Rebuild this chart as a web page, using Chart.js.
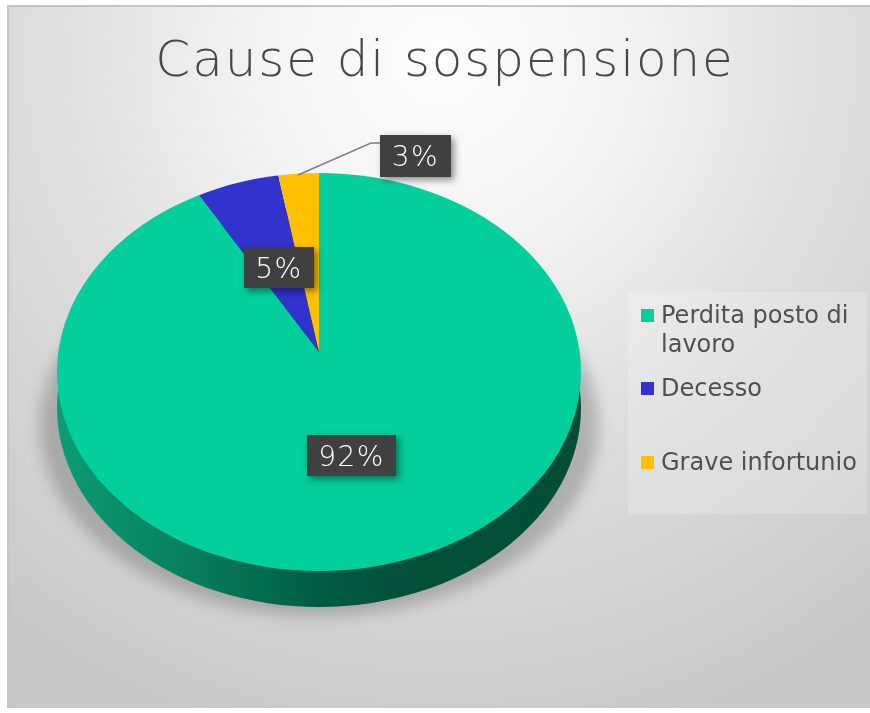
<!DOCTYPE html>
<html>
<head>
<meta charset="utf-8">
<title>Cause di sospensione</title>
<script src="https://cdn.jsdelivr.net/npm/chart.js@4"></script>
<style>
  body { margin: 0; background: #fff; overflow: hidden; }
  #wrap { position: relative; width: 870px; height: 713px; }
  #legendBox { position: absolute; left: 628px; top: 292px; width: 239px; height: 222px; background: rgba(255,255,255,.2); }
  .item { position: absolute; left: 13px; font: 24px/29px "DejaVu Sans", sans-serif; color: #505050; padding-left: 20px; width: 220px; box-sizing: border-box; }
  .item i { position: absolute; left: 0; top: 8px; width: 13px; height: 13px; }
</style>
</head>
<body>
<div id="wrap">
  <canvas id="myChart" width="870" height="713"></canvas>
  <div id="legendBox"></div>
</div>
<script>
var titleText = "Cause di sospensione";
var categories = ["Perdita posto di lavoro", "Decesso", "Grave infortunio"];
var values = [92.3, 5.2, 2.5];
var colors = ["#02CF9C", "#3232CC", "#FFC000"];

// where the tilted pie sits on the page
var tipX = 319, tipY = 352;      // point where the slices meet
var faceX = 319, faceY = 372, faceRx = 262, faceRy = 199;
var depth = 36;
var grow = 1.2;                  // slices are drawn larger, then clipped to the face

// label boxes: left, top, width, height
var boxes = [[307, 435, 89, 41], [244, 247, 70, 41], [380, 135, 71, 42]];

function ellipsePath(ctx, cy) {
  ctx.beginPath();
  ctx.ellipse(faceX, cy, faceRx, faceRy, 0, 0, Math.PI * 2);
}

var tiltedPie = {
  id: "tiltedPie",
  beforeDraw: function(chart) {
    var ctx = chart.ctx;
    ctx.save();
    var g = ctx.createRadialGradient(440, 60, 0, 440, 60, 700);
    g.addColorStop(0, "#fdfdfd");
    g.addColorStop(0.25, "#f4f4f4");
    g.addColorStop(0.6, "#dcdcdc");
    g.addColorStop(1, "#c8c8c8");
    ctx.fillStyle = g;
    ctx.fillRect(8, 6, 862, 702);
    ctx.strokeStyle = "#c4c4c4";
    ctx.lineWidth = 2;
    ctx.beginPath();
    ctx.moveTo(8, 708);
    ctx.lineTo(8, 6);
    ctx.lineTo(870, 6);
    ctx.stroke();
    ctx.restore();
    ctx.letterSpacing = "1.9px"; // only the title is drawn before the datasets
  },
  beforeDatasetsDraw: function(chart) {
    var ctx = chart.ctx;
    var arcs = chart.getDatasetMeta(0).data;
    ctx.letterSpacing = "0px";

    // soft shadow under the lower half
    ctx.save();
    ctx.filter = "blur(7px)";
    ctx.fillStyle = "rgba(60,60,60,.28)";
    ctx.beginPath();
    ctx.ellipse(faceX, 425, faceRx + 17, 191, 0, 0, Math.PI * 2);
    ctx.fill();
    ctx.restore();

    // side of the pie
    ctx.save();
    var side = ctx.createLinearGradient(faceX - faceRx, 0, faceX + faceRx, 0);
    side.addColorStop(0, "#0c9c74");
    side.addColorStop(0.25, "#067f5d");
    side.addColorStop(0.5, "#005c42");
    side.addColorStop(0.65, "#03513a");
    side.addColorStop(1, "#034d37");
    ctx.fillStyle = side;
    ellipsePath(ctx, faceY + depth);
    ctx.fill();
    ctx.restore();

    // top face: library arcs under a tilt, squeezed more above the tip than below
    ctx.save();
    ellipsePath(ctx, faceY);
    ctx.clip();
    [[0, tipY, 180], [tipY, 713 - tipY, 220]].forEach(function(part) {
      ctx.save();
      ctx.beginPath();
      ctx.rect(0, part[0], 870, part[1]);
      ctx.clip();
      arcs.forEach(function(el) {
        var r = el.outerRadius;
        ctx.save();
        ctx.translate(tipX, tipY);
        ctx.scale(faceRx * grow / r, part[2] * grow / r);
        ctx.translate(-el.x, -el.y);
        el.draw(ctx);
        ctx.restore();
      });
      ctx.restore();
    });
    ctx.restore();
    return false;
  },
  afterDraw: function(chart) {
    var ctx = chart.ctx;
    var total = values.reduce(function(a, b) { return a + b; }, 0);

    // leader line for the smallest slice
    ctx.save();
    ctx.strokeStyle = "#808080";
    ctx.lineWidth = 1.5;
    ctx.beginPath();
    ctx.moveTo(298, 175);
    ctx.lineTo(371, 143);
    ctx.lineTo(380, 143);
    ctx.stroke();
    ctx.restore();

    values.forEach(function(v, i) {
      var b = boxes[i];
      ctx.save();
      ctx.shadowColor = "rgba(0,0,0,.45)";
      ctx.shadowBlur = 7;
      ctx.shadowOffsetX = 3;
      ctx.shadowOffsetY = 3;
      ctx.fillStyle = "#404040";
      ctx.fillRect(b[0], b[1], b[2], b[3]);
      ctx.restore();
      ctx.save();
      ctx.fillStyle = "#ffffff";
      ctx.font = "200 28px 'DejaVu Sans'";
      ctx.letterSpacing = "1.5px";
      ctx.textAlign = "center";
      ctx.textBaseline = "middle";
      ctx.fillText(Math.round(v / total * 100) + "%", b[0] + b[2] / 2, b[1] + b[3] / 2 + 3);
      ctx.restore();
    });
  }
};

var ctx = document.getElementById("myChart").getContext("2d");
var myPieChart = new Chart(ctx, {
  type: "pie",
  data: {
    labels: categories,
    datasets: [{ data: values, backgroundColor: colors, borderWidth: 0 }]
  },
  options: {
    responsive: false,
    animation: false,
    layout: { padding: { left: 20 } },
    plugins: {
      legend: { display: false },
      tooltip: { enabled: false },
      title: {
        display: true,
        text: titleText,
        color: "#484848",
        font: { family: "'DejaVu Sans'", size: 50, weight: 200 },
        padding: { top: 33, bottom: 10 }
      }
    }
  },
  plugins: [tiltedPie]
});

// legend from the same arrays
var itemTops = [9, 82, 156];
var box = document.getElementById("legendBox");
categories.forEach(function(name, i) {
  var d = document.createElement("div");
  d.className = "item";
  d.style.top = itemTops[i] + "px";
  d.innerHTML = '<i style="background:' + colors[i] + '"></i>' + name;
  box.appendChild(d);
});
</script>
</body>
</html>
